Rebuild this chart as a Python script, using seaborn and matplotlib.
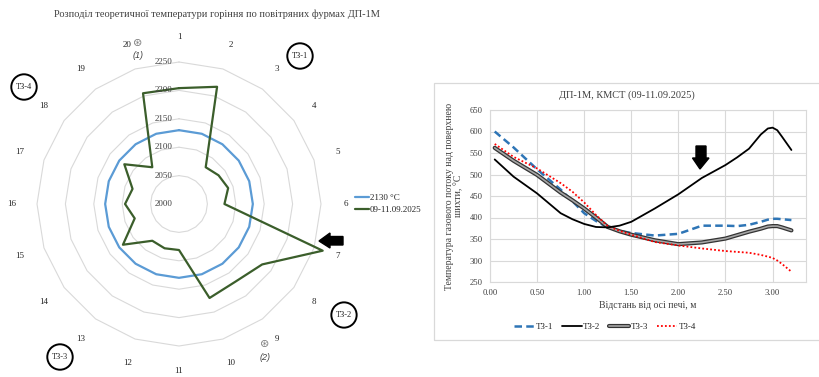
import numpy as np
import pandas as pd
import matplotlib
matplotlib.use("Agg")
import matplotlib.pyplot as plt
import matplotlib.patheffects as pe
from matplotlib.lines import Line2D
from matplotlib.patches import Polygon, Rectangle
import seaborn as sns

# ---------------- data ----------------
tuyeres = [str(i) for i in range(1, 21)]
t_design = [2130] * 20
t_actual = [2204, 2217, 2080, 2086, 2091, 2080, 2266, 2181, 2169, 2174,
            2081, 2082, 2080, 2122, 2082, 2095, 2086, 2119, 2080, 2205]
ring_levels = [2050, 2100, 2150, 2200, 2250]
radial_labels = [2000, 2050, 2100, 2150, 2200, 2250]

dist = [0.05, 0.25, 0.5, 0.75, 0.875, 1.0, 1.125, 1.25, 1.375, 1.5, 1.75, 2.0,
        2.25, 2.5, 2.625, 2.75, 2.875, 2.95, 3.0, 3.05, 3.1, 3.2]
tz1 = [600, 563, 512, 465, 438, 410, 392, 377, 369, 364, 358, 362,
       381, 381, 380, 383, 390, 395, 397, 397, 396, 394]
tz2 = [535, 495, 456, 410, 396, 385, 378, 377, 381, 390, 421, 454,
       492, 522, 540, 560, 593, 607, 609, 603, 588, 557]
tz3 = [562, 532, 499, 458, 440, 421, 400, 378, 368, 360, 347, 338,
       342, 351, 359, 367, 374, 379, 380, 380, 377, 370]
tz4 = [571, 541, 514, 480, 460, 435, 406, 380, 369, 360, 343, 335,
       328, 322, 320, 318, 313, 309, 306, 300, 292, 274]
x_ticks = [0.0, 0.5, 1.0, 1.5, 2.0, 2.5, 3.0]
y_ticks = [250, 300, 350, 400, 450, 500, 550, 600, 650]

# ---------------- style ----------------
sns.set_style("white")
plt.rcParams['font.family'] = ['Liberation Serif', 'DejaVu Serif']

W, H = 819, 377
fig = plt.figure(figsize=(W / 100, H / 100), dpi=100)

def fx(px):
    return px / W

def fy(py):
    return 1 - py / H

# ---------------- radar ----------------
cx, cy, R = 179, 204, 142
axp = fig.add_axes([fx(cx - R), fy(cy + R), 2 * R / W, 2 * R / H], projection='polar')
axp.set_theta_zero_location('N')
axp.set_theta_direction(-1)
theta = np.linspace(0, 2 * np.pi, len(tuyeres), endpoint=False)
theta_c = np.append(theta, theta[0])
axp.set_ylim(2000, 2250)
axp.grid(False)
axp.spines['polar'].set_visible(False)
axp.set_yticks([])
for lv in ring_levels:
    axp.plot(theta_c, [lv] * len(theta_c), color='#d9d9d9', lw=0.8, zorder=1)

df_r = pd.DataFrame({'theta': np.append(theta_c, theta_c),
                     'val': t_design + [t_design[0]] + t_actual + [t_actual[0]],
                     'series': ['2130 °C'] * 21 + ['09-11.09.2025'] * 21})
sns.lineplot(data=df_r, x='theta', y='val', hue='series',
             sort=False, estimator=None, palette={'2130 °C': '#5B9BD5', '09-11.09.2025': '#3B5E2B'},
             lw=1.6, ax=axp, legend=False, zorder=3)
for ln in axp.get_lines():
    ln.set_clip_on(False)
axp.set_xlabel('')
axp.set_ylabel('')
axp.set_xticks(theta)
axp.set_xticklabels(tuyeres)
axp.tick_params(axis='x', pad=11, labelsize=6.5, length=0)
for lv in radial_labels:
    axp.annotate(str(lv), xy=(0, lv), xytext=(-5, 0), textcoords='offset points',
                 ha='right', va='center', fontsize=6.5, color='#404040')

hl = [Line2D([0], [0], color='#5B9BD5', lw=1.6), Line2D([0], [0], color='#3B5E2B', lw=1.6)]
fig.legend(hl, ['2130 °C', '09-11.09.2025'], loc='center left',
           bbox_to_anchor=(fx(355), fy(204)), frameon=False, fontsize=6.5,
           handlelength=1.6, handletextpad=0.05, borderpad=0, borderaxespad=0,
           labelspacing=0.45)

fig.text(fx(217), fy(14), 'Розподіл теоретичної температури горіння по повітряних фурмах ДП-1М',
         ha='center', va='center', fontsize=7.5, color='#404040')

for lab, (px, py) in {'ТЗ-1': (300, 56), 'ТЗ-4': (24, 87), 'ТЗ-2': (344, 315), 'ТЗ-3': (60, 357)}.items():
    fig.text(fx(px), fy(py), lab, ha='center', va='center', fontsize=6,
             bbox=dict(boxstyle='circle,pad=0.55', fc='white', ec='black', lw=1.4))

for sym, (px, py) in {'(1)': (138, 43), '(2)': (265, 344)}.items():
    fig.text(fx(px), fy(py), '⊛', ha='center', va='center', fontsize=8,
             color='#7f7f7f', family='DejaVu Sans')
    fig.text(fx(px), fy(py + 13), sym, ha='center', va='center', fontsize=6.5,
             color='#404040', family='Liberation Sans', style='italic')

arrow_l = [(319, 241), (330, 233), (330, 236.5), (343, 236.5), (343, 245), (330, 245), (330, 248)]
fig.add_artist(Polygon([(fx(a), fy(b)) for a, b in arrow_l], closed=True,
                       transform=fig.transFigure, fc='black', ec='black'))

# ---------------- line chart ----------------
fig.add_artist(Rectangle((fx(434), fy(340)), fx(900) - fx(434), fy(83) - fy(340),
                         transform=fig.transFigure, fill=False, ec='#d9d9d9', lw=0.9))

ax = fig.add_axes([fx(490), fy(282), (806 - 490) / W, (282 - 110) / H])
ax.set_xlim(0, 3.355)
ax.set_ylim(250, 650)
ax.set_xticks(x_ticks)
ax.set_xticklabels([f'{v:.2f}' for v in x_ticks])
ax.set_yticks(y_ticks)
ax.grid(True, color='#d9d9d9', lw=0.8)
for s in ax.spines.values():
    s.set_color('#d9d9d9')
    s.set_linewidth(0.8)
ax.tick_params(axis='both', labelsize=6.2, length=0, colors='#404040')
ax.tick_params(axis='y', pad=5)
ax.tick_params(axis='x', pad=5)

sns.lineplot(x=dist, y=tz1, ax=ax, color='#2E75B6', lw=1.8, ls=(0, (3, 1.7)), zorder=3)
sns.lineplot(x=dist, y=tz2, ax=ax, color='black', lw=1.3, zorder=4)
dbl = [pe.Stroke(linewidth=3.0, foreground='#333333'), pe.Normal()]
sns.lineplot(x=dist, y=tz3, ax=ax, color='#a6a6a6', lw=1.2, zorder=3, path_effects=dbl)
sns.lineplot(x=dist, y=tz4, ax=ax, color='#FF0000', lw=1.3, ls=(0, (1, 1.2)), zorder=3)

ax.set_xlabel('Відстань від осі печі, м', fontsize=7, color='#404040', labelpad=3)
ax.set_ylabel('Температура газового потоку над поверхнею\nшихти, °С', fontsize=7,
              color='#404040', linespacing=1.0)
ax.yaxis.set_label_coords(-0.085, 0.5)

fig.text(fx(627), fy(95), 'ДП-1М, КМСТ (09-11.09.2025)', ha='center', va='center',
         fontsize=7.5, color='#404040')

hr = [Line2D([0], [0], color='#2E75B6', lw=1.8, ls=(0, (3, 1.7))),
      Line2D([0], [0], color='black', lw=1.3),
      Line2D([0], [0], color='#a6a6a6', lw=1.2, path_effects=dbl),
      Line2D([0], [0], color='#FF0000', lw=1.3, ls=(0, (1, 1.2)))]
fig.legend(hr, ['ТЗ-1', 'ТЗ-2', 'ТЗ-3', 'ТЗ-4'], loc='center', ncol=4,
           bbox_to_anchor=(fx(605), fy(327)), frameon=False, fontsize=6.5,
           handlelength=2.2, handletextpad=0.15, columnspacing=1.0)

arrow_r = [(700, 169), (692.5, 158), (696, 158), (696, 146), (706, 146), (706, 158), (709, 158)]
fig.add_artist(Polygon([(fx(a), fy(b)) for a, b in arrow_r], closed=True,
                       transform=fig.transFigure, fc='black', ec='black', zorder=10))

fig.savefig('out.png', dpi=100)
